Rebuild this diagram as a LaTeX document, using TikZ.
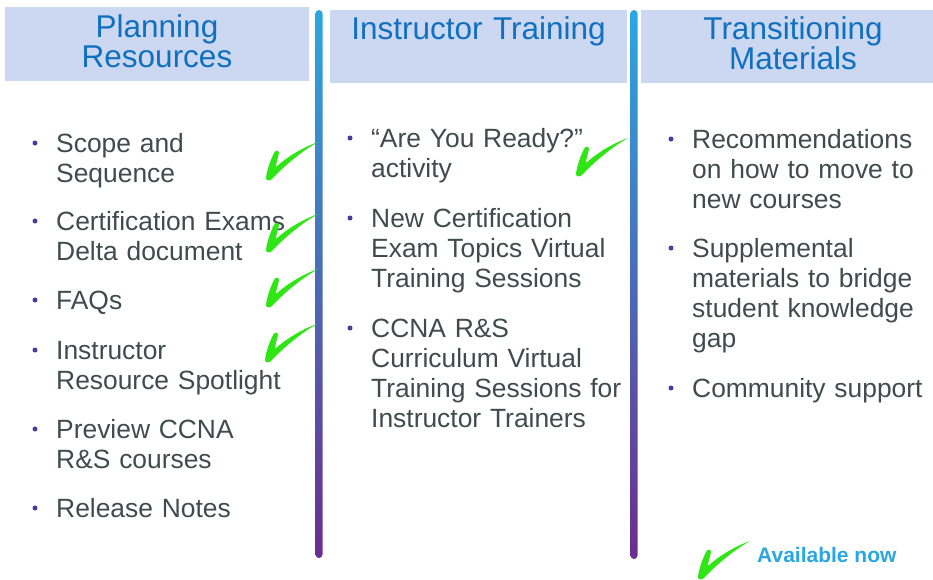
\documentclass[tikz,border=0pt]{standalone}
\usepackage{fontspec}
\setmainfont{Liberation Sans}
\definecolor{hdrfill}{RGB}{204,215,241}
\definecolor{hdrtext}{RGB}{16,112,192}
\definecolor{bodytext}{RGB}{64,75,79}
\definecolor{bulletc}{RGB}{75,60,156}
\definecolor{checkgreen}{RGB}{45,230,20}
\definecolor{barTop}{RGB}{43,168,224}
\definecolor{barMid}{RGB}{43,62,146}
\definecolor{barBot}{RGB}{108,45,143}
\definecolor{legendc}{RGB}{42,167,224}
\tikzset{
  hdrbox/.style={fill=hdrfill, draw=none},
  hdr/.style={inner sep=0pt, text=hdrtext, align=center, text width=300pt,
    font=\fontsize{31.5}{30}\selectfont},
  item/.style={inner sep=0pt, text=bodytext, align=left, text width=280pt,
    font=\fontsize{26.4}{30}\selectfont, anchor=base west},
  bul/.style={circle, fill=bulletc, inner sep=0pt, minimum size=5pt},
  bar/.style={top color=barTop, middle color=barMid, bottom color=barBot, rounded corners=3.5pt},
  chk/.pic={
    \fill[checkgreen] (0,0) .. controls (1,-9) and (5,-19) .. (8,-25)
      .. controls (9,-28) and (13,-28) .. (13,-25)
      .. controls (12,-20) and (10,-15) .. (10,-11)
      .. controls (22,-22) and (38,-31) .. (52,-36)
      .. controls (36,-27) and (18,-12) .. (6,1)
      .. controls (4,3) and (0,3) .. (0,0) -- cycle;
  }
}
\begin{document}
\begin{tikzpicture}[x=1pt,y=-1pt]
\useasboundingbox (0,0) rectangle (933,579);
\fill[white] (0,0) rectangle (933,579);

% header boxes
\fill[hdrbox] (5,7) rectangle (309,81);
\fill[hdrbox] (330,10) rectangle (627,83);
\fill[hdrbox] (641,10) rectangle (933,83);

\node[hdr, anchor=base] (h1) at (157,37) {Planning\\Resources};
\node[hdr, anchor=base] (h2) at (478.5,39) {Instructor Training};
\node[hdr, anchor=base] (h3) at (793,39) {Transitioning\\Materials};

% vertical gradient bars
\shade[bar] (315.5,10) rectangle (322.5,558);
\shade[bar] (630.5,10) rectangle (637.5,559);

% column 1
\node[bul] (b1a) at (35,143) {};
\node[item] (c1a) at (56,152) {Scope and\\Sequence};
\node[bul] (b1b) at (35,221) {};
\node[item] (c1b) at (56,230) {Certification Exams\\Delta document};
\node[bul] (b1c) at (35,300) {};
\node[item] (c1c) at (56,309) {FAQs};
\node[bul] (b1d) at (35,350) {};
\node[item] (c1d) at (56,359) {Instructor\\Resource Spotlight};
\node[bul] (b1e) at (35,429) {};
\node[item] (c1e) at (56,438) {Preview CCNA\\R\&S courses};
\node[bul] (b1f) at (35,508) {};
\node[item] (c1f) at (56,517) {Release Notes};

% column 2
\node[bul] (b2a) at (350,138) {};
\node[item] (c2a) at (371,147) {“Are You Ready?”\\activity};
\node[bul] (b2b) at (350,218) {};
\node[item] (c2b) at (371,227) {New Certification\\Exam Topics Virtual\\Training Sessions};
\node[bul] (b2c) at (350,328) {};
\node[item] (c2c) at (371,337) {CCNA R\&S\\Curriculum Virtual\\Training Sessions for\\Instructor Trainers};

% column 3
\node[bul] (b3a) at (671,139) {};
\node[item] (c3a) at (692,148) {Recommendations\\on how to move to\\new courses};
\node[bul] (b3b) at (671,248) {};
\node[item] (c3b) at (692,257) {Supplemental\\materials to bridge\\student knowledge\\gap};
\node[bul] (b3c) at (671,388) {};
\node[item] (c3c) at (692,397) {Community support};

% check marks
\pic at (266,178) {chk};
\pic at (266,250) {chk};
\pic at (266,305) {chk};
\pic at (265,360) {chk};
\pic at (576,174) {chk};
\pic at (698,577) {chk};

% legend
\node[inner sep=0pt, anchor=base west, text=legendc, font=\bfseries\fontsize{21}{24}\selectfont] (leg) at (757,562) {Available now};
\end{tikzpicture}
\end{document}
